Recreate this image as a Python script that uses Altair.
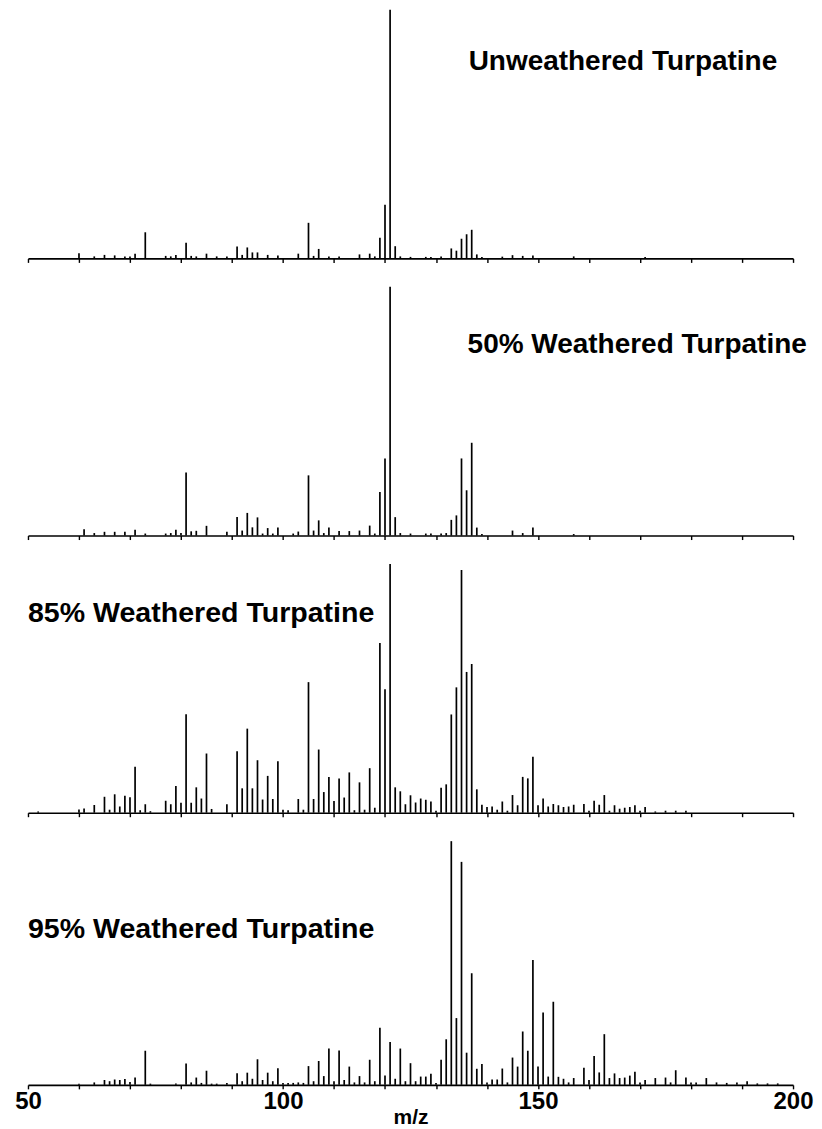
import altair as alt
import pandas as pd

# ---------------- data (m/z, relative intensity %) ----------------
mz_unw = [60, 63, 65, 67, 69, 70, 71, 73, 77, 78, 79, 81, 82, 83, 85, 87, 89, 91, 92, 93,
          94, 95, 97, 99, 103, 105, 106, 107, 109, 111, 115, 117, 118, 119, 120, 121, 122,
          123, 125, 128, 129, 131, 133, 134, 135, 136, 137, 138, 139, 143, 145, 147, 149,
          157, 171]
int_unw = [2.1, 0.8, 1.4, 1.2, 0.8, 0.8, 1.9, 10.5, 1.0, 0.8, 1.4, 6.3, 1.0, 0.8, 1.9, 0.8,
           0.8, 4.8, 1.4, 4.4, 2.4, 2.4, 1.4, 1.2, 1.9, 14.3, 1.0, 3.8, 0.8, 0.8, 1.6, 1.9,
           0.8, 8.3, 21.6, 100, 4.9, 0.8, 0.6, 0.6, 0.6, 0.8, 4.0, 3.1, 7.9, 9.7, 11.5, 1.6,
           0.6, 0.7, 1.3, 1.0, 1.2, 0.8, 0.6]

mz_50 = [61, 63, 65, 67, 69, 71, 73, 77, 78, 79, 80, 81, 82, 83, 85, 89, 91, 92, 93, 94,
         95, 96, 97, 98, 99, 102, 103, 105, 106, 107, 108, 109, 111, 113, 115, 117, 118,
         119, 120, 121, 122, 123, 125, 128, 129, 131, 132, 133, 134, 135, 136, 137, 138,
         139, 145, 147, 149, 157]
int_50 = [2.5, 1.0, 1.5, 1.5, 1.5, 2.3, 0.8, 0.8, 1.0, 2.3, 1.0, 25.3, 1.7, 1.9, 3.9, 1.5,
          7.5, 2.0, 9.1, 3.3, 7.3, 0.8, 3.0, 0.8, 3.2, 0.8, 1.6, 24.2, 2.0, 6.1, 1.0, 3.2,
          1.8, 1.8, 2.0, 4.0, 0.8, 17.5, 31.0, 100, 7.4, 1.0, 0.8, 0.8, 0.8, 0.8, 1.0, 6.3,
          8.1, 31.0, 18.2, 37.3, 3.2, 0.6, 2.0, 1.0, 3.2, 0.6]

mz_85 = [52, 60, 61, 63, 65, 66, 67, 68, 69, 70, 71, 72, 73, 74, 77, 78, 79, 80, 81, 82,
         83, 84, 85, 86, 89, 91, 92, 93, 94, 95, 96, 97, 98, 99, 100, 101, 103, 104, 105,
         106, 107, 108, 109, 110, 111, 112, 113, 114, 115, 116, 117, 118, 119, 120, 121,
         122, 123, 124, 125, 126, 127, 128, 129, 130, 131, 132, 133, 134, 135, 136, 137,
         138, 139, 140, 141, 142, 143, 144, 145, 146, 147, 148, 149, 150, 151, 152, 153,
         154, 155, 156, 157, 159, 160, 161, 162, 163, 164, 165, 166, 167, 168, 169, 170,
         171, 173, 175, 177, 179]
int_85 = [0.5, 1.3, 1.7, 3.1, 6.4, 1.2, 7.4, 2.5, 6.8, 6.2, 18.5, 1.0, 3.4, 0.6, 4.8, 3.4,
          10.7, 4.0, 39.6, 4.0, 10.2, 5.7, 23.8, 1.5, 3.4, 24.7, 9.8, 33.8, 9.8, 21.1, 5.3,
          14.8, 5.5, 20.7, 1.2, 1.0, 5.5, 1.2, 52.5, 5.5, 25.4, 8.3, 14.4, 4.7, 13.8, 6.1,
          16.2, 1.0, 12.2, 1.2, 17.9, 2.0, 68.2, 49.6, 100, 10.2, 8.6, 3.4, 7.0, 4.1, 5.7,
          5.2, 4.5, 0.8, 10.0, 11.4, 39.5, 50.4, 97.6, 56.6, 59.8, 9.4, 3.2, 2.3, 2.5, 1.2,
          4.5, 0.8, 7.1, 3.0, 14.4, 13.8, 22.5, 3.0, 5.7, 2.5, 3.5, 3.0, 2.3, 2.5, 3.2, 3.5,
          0.8, 4.8, 3.2, 7.1, 0.8, 3.0, 1.6, 2.0, 2.3, 3.0, 0.8, 2.3, 0.5, 0.8, 0.8, 0.8]

mz_95 = [60, 63, 65, 66, 67, 68, 69, 70, 71, 73, 74, 79, 81, 82, 83, 84, 85, 86, 87, 89,
         91, 92, 93, 94, 95, 96, 97, 98, 99, 100, 101, 102, 103, 104, 105, 106, 107, 108,
         109, 110, 111, 112, 113, 114, 115, 116, 117, 118, 119, 120, 121, 122, 123, 124,
         125, 126, 127, 128, 129, 130, 131, 132, 133, 134, 135, 136, 137, 138, 139, 140,
         141, 142, 143, 144, 145, 146, 147, 148, 149, 150, 151, 152, 153, 154, 155, 156,
         157, 159, 160, 161, 162, 163, 164, 165, 166, 167, 168, 169, 170, 171, 173, 175,
         176, 177, 179, 180, 181, 183, 185, 187, 189, 191, 193, 195, 197]
int_95 = [0.5, 1.0, 2.0, 1.5, 2.2, 2.0, 2.4, 1.2, 3.0, 14.0, 0.5, 0.6, 8.8, 1.0, 3.0, 0.8,
          5.8, 0.5, 0.5, 0.8, 4.8, 1.5, 5.0, 2.5, 10.5, 2.0, 5.0, 1.5, 6.8, 0.8, 0.8, 0.8,
          1.0, 0.8, 7.7, 1.5, 9.8, 3.6, 14.9, 1.5, 14.1, 2.0, 7.5, 1.0, 3.6, 1.0, 10.3, 1.5,
          23.4, 3.8, 17.6, 2.5, 14.9, 1.5, 8.9, 1.5, 3.4, 3.4, 4.6, 0.8, 10.3, 18.7, 100,
          27.4, 91.5, 13.2, 45.8, 6.6, 8.6, 1.0, 2.2, 2.2, 6.7, 1.0, 11.2, 7.5, 21.9, 14.0,
          51.2, 7.5, 29.7, 3.4, 34.1, 3.3, 2.5, 1.0, 2.8, 7.0, 2.0, 11.8, 5.1, 20.8, 2.8,
          4.7, 2.8, 3.0, 3.8, 5.4, 1.0, 2.0, 2.8, 3.0, 1.0, 6.0, 3.0, 1.0, 1.0, 2.8, 1.0,
          0.8, 1.0, 1.5, 0.6, 0.6, 0.6]

panel_names = ["Unweathered Turpatine", "50% Weathered Turpatine",
               "85% Weathered Turpatine", "95% Weathered Turpatine"]
panel_mz = [mz_unw, mz_50, mz_85, mz_95]
panel_int = [int_unw, int_50, int_85, int_95]
label_mz = [136.4, 136.2, 50.0, 50.0]
label_int = [79.0, 76.7, 80.3, 63.9]

tick_values = list(range(50, 201, 10))

FONT = "Liberation Sans"
heights = [249, 249, 249, 244]
label_sizes = [28, 28, 28.6, 28.6]


def make_panel(i, bottom):
    df = pd.DataFrame({"mz": panel_mz[i], "intensity": panel_int[i]})
    lab = pd.DataFrame({"mz": [label_mz[i]], "intensity": [label_int[i]],
                        "label": [panel_names[i]]})
    axis_kw = dict(values=tick_values, grid=False, domainColor="black", domainWidth=1.6,
                   tickColor="black", tickWidth=1.4, tickSize=4)
    scale = alt.Scale(domain=[50, 200], nice=False, zero=False)
    if bottom:
        axis_kw.update(labels=True, labelExpr="datum.value % 50 == 0 ? datum.label : ''",
                       labelFont=FONT, labelFontSize=24, labelFontWeight="bold",
                       labelColor="black", labelPadding=1, labelOverlap=False,
                       labelFlush=False,
                       titleFont=FONT, titleFontSize=21, titleFontWeight="bold",
                       titleColor="black", titlePadding=-7)
        x = alt.X("mz:Q", scale=scale, axis=alt.Axis(**axis_kw), title="m/z")
    else:
        axis_kw.update(labels=False)
        x = alt.X("mz:Q", scale=scale, axis=alt.Axis(**axis_kw), title="")
    y = alt.Y("intensity:Q", scale=alt.Scale(domain=[0, 100], nice=False), axis=None)

    rules = alt.Chart(df).mark_rule(color="black", strokeWidth=1.7).encode(
        x=x, y=y, y2=alt.datum(0))
    text = alt.Chart(lab).mark_text(
        align="left", baseline="middle", font=FONT, fontWeight="bold",
        fontSize=label_sizes[i], color="black").encode(x=x, y=y, text="label:N")
    return alt.layer(rules, text).properties(width=766, height=heights[i])


charts = [make_panel(i, i == 3) for i in range(4)]

chart = alt.vconcat(*charts, spacing=22.5).properties(
    padding={"left": 6, "top": 0, "right": 0, "bottom": 0}
).configure_view(stroke=None)

chart.save("out.html", embed_options={"renderer": "svg", "actions": False})
